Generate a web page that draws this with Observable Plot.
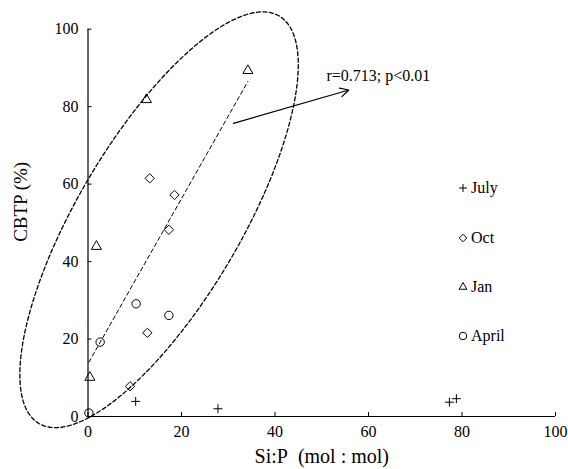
<!DOCTYPE html>
<html><head><meta charset="utf-8">
<script src="https://cdn.jsdelivr.net/npm/d3@7"></script>
<script src="https://cdn.jsdelivr.net/npm/@observablehq/plot@0.6"></script>
<style>
body{margin:0;background:#fff;}
#wrap{position:relative;width:568px;height:469px;font-family:'Liberation Serif',serif;}
#legend{position:absolute;left:0;top:0;pointer-events:none;}
</style></head><body><div id="wrap"></div>
<script>
// ---- data ----
const julyX = [10.2, 27.8, 77.3, 78.8];
const julyY = [3.9, 2.0, 3.7, 4.6];
const octX = [13.2, 18.5, 17.3, 12.7, 9.0];
const octY = [61.5, 57.2, 48.2, 21.6, 7.8];
const janX = [12.5, 34.2, 1.8, 0.4];
const janY = [81.8, 89.3, 43.9, 10.1];
const aprX = [10.3, 17.3, 2.6, 0.2];
const aprY = [29.1, 26.1, 19.2, 0.9];
const seriesNames = ["July", "Oct", "Jan", "April"];
const seriesSymbols = ["plus", "diamond2", "triangle2", "circle"];
const xTicks = [0, 20, 40, 60, 80, 100];
const yTicks = [0, 20, 40, 60, 80, 100];
const xTitle = "Si:P\u00a0\u00a0(mol : mol)";
const yTitle = "CBTP (%)";
const annText = ["r=0.713; p<0.01"];
const annX = [51.0], annY = [88.0];
const arrowX1 = [31.1], arrowY1 = [75.7], arrowX2 = [55.8], arrowY2 = [84.3];
// confidence ellipse (data units): centre and two half-axis vectors
const ellCenter = [15.2, 50.8];
const ellU = [25.7, 52.6];
const ellV = [-15.05, 10.68];

const toPts = (xs, ys) => xs.map((x, i) => ({x, y: ys[i]}));
const july = toPts(julyX, julyY), oct = toPts(octX, octY), jan = toPts(janX, janY), apr = toPts(aprX, aprY);
const fitData = [...oct, ...jan, ...apr];
const ellipse = d3.range(0, 361, 2).map(a => {
  const t = a * Math.PI / 180;
  return {x: ellCenter[0] + Math.cos(t) * ellU[0] + Math.sin(t) * ellV[0],
          y: ellCenter[1] + Math.cos(t) * ellU[1] + Math.sin(t) * ellV[1]};
});
const arrow = arrowX1.map((d, i) => ({x1: d, y1: arrowY1[i], x2: arrowX2[i], y2: arrowY2[i]}));
const ann = annText.map((t, i) => ({t, x: annX[i], y: annY[i]}));

const font = "Liberation Serif, serif";
const dotOpts = {x: "x", y: "y", fill: "none", stroke: "black", strokeWidth: 1};

const chart = Plot.plot({
  width: 568, height: 469,
  marginLeft: 87.5, marginRight: 13, marginTop: 28.7, marginBottom: 53,
  style: {color: "black", background: "white"},
  x: {domain: [0, 100]},
  y: {domain: [0, 100]},
  marks: [
    Plot.ruleX([0], {y1: 0, y2: 100, stroke: "black", strokeWidth: 1.2}),
    Plot.ruleY([0], {x1: 0, x2: 100, stroke: "black", strokeWidth: 1.2}),
    Plot.axisX({ticks: xTicks, tickSize: -4, tickPadding: 13, fontSize: 16, label: null, tickFormat: d => d}),
    Plot.axisY({ticks: yTicks, tickSize: -4, tickPadding: 13.5, fontSize: 16, label: null, tickFormat: d => d}),
    Plot.text([xTitle], {frameAnchor: "bottom", textAnchor: "middle", lineAnchor: "middle", dy: 40, fontSize: 20, text: d => d}),
    Plot.text([yTitle], {frameAnchor: "left", textAnchor: "middle", lineAnchor: "middle", dx: -67, dy: -21, rotate: -90, fontSize: 19, text: d => d}),
    Plot.line(ellipse, {x: "x", y: "y", stroke: "black", strokeWidth: 1.3, strokeDasharray: "4,2.5"}),
    Plot.linearRegressionY(fitData, {x: "x", y: "y", stroke: "black", strokeWidth: 1, strokeDasharray: "4,3", ci: 0}),
    Plot.arrow(arrow, {x1: "x1", y1: "y1", x2: "x2", y2: "y2", stroke: "black", strokeWidth: 1.2, headLength: 12, headAngle: 55}),
    Plot.text(ann, {x: "x", y: "y", text: "t", textAnchor: "start", fontSize: 16}),
    Plot.dot(july, {...dotOpts, symbol: "plus", r: 3}),
    Plot.dot(oct, {...dotOpts, symbol: "diamond2", r: 4.2}),
    Plot.dot(jan, {...dotOpts, symbol: "triangle2", r: 4.8}),
    Plot.dot(apr, {...dotOpts, symbol: "circle", r: 4.2})
  ]
});
chart.setAttribute("font-family", font);
d3.select(chart).selectAll("g, text").attr("font-family", null);
d3.select(chart).selectAll("text").style("font-family", font, "important");
const wrap = document.getElementById("wrap");
wrap.appendChild(chart);

// legend overlay
const legRows = [188, 238, 287, 336];
const leg = d3.select(wrap).append("svg").attr("id", "legend").attr("width", 568).attr("height", 469);
const symMap = {plus: d3.symbolPlus, diamond2: d3.symbolDiamond2, triangle2: d3.symbolTriangle2, circle: d3.symbolCircle};
const symSize = {plus: 22, diamond2: 36, triangle2: 44, circle: 44};
seriesNames.forEach((name, i) => {
  const g = leg.append("g").attr("transform", `translate(463,${legRows[i]})`);
  g.append("path").attr("d", d3.symbol(symMap[seriesSymbols[i]], symSize[seriesSymbols[i]])())
    .attr("fill", "none").attr("stroke", "black").attr("stroke-width", 1);
  g.append("text").attr("x", 8).attr("dy", "0.32em").style("font-family", font)
    .attr("font-size", 16).text(name);
});
</script></body></html>
